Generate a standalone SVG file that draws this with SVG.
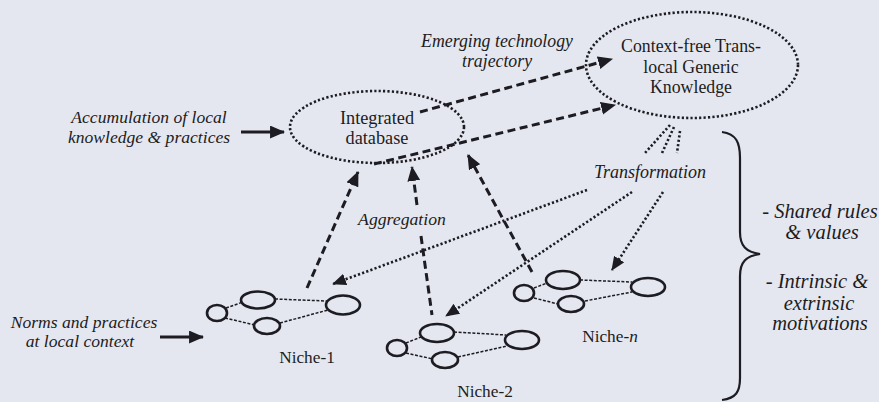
<svg xmlns="http://www.w3.org/2000/svg" width="879" height="402" viewBox="0 0 879 402">
  <defs>
    <style>
      text { font-family: "Liberation Serif", "DejaVu Serif", serif; fill: #1c1c22; }
      .it { font-style: italic; }
      .dotted { fill: none; stroke: #1c1c22; stroke-width: 2.6; stroke-dasharray: 2.2 2.2; }
      .dashed { fill: none; stroke: #1c1c22; stroke-width: 3; stroke-dasharray: 8 4.5; }
      .dotline { fill: none; stroke: #1c1c22; stroke-width: 2.6; stroke-dasharray: 2.2 2.2; }
      .solid { fill: none; stroke: #1c1c22; stroke-width: 3; }
      .cell { fill: none; stroke: #1c1c22; stroke-width: 2.6; }
      .link { fill: none; stroke: #1c1c22; stroke-width: 1.5; stroke-dasharray: 3 1.6; }
      .brace { fill: none; stroke: #1c1c22; stroke-width: 2.2; }
    </style>
    <marker id="head" viewBox="0 0 14 12" refX="13" refY="6" markerWidth="15" markerHeight="13" markerUnits="userSpaceOnUse" orient="auto">
      <path d="M0,0 L14,6 L0,12 Z" fill="#1c1c22"/>
    </marker>
    <marker id="headS" viewBox="0 0 14 12" refX="13" refY="6" markerWidth="14" markerHeight="12" markerUnits="userSpaceOnUse" orient="auto">
      <path d="M0,0 L14,6 L0,12 Z" fill="#1c1c22"/>
    </marker>
  </defs>

  <rect width="879" height="402" fill="#e5e7f0"/>

  <!-- main knowledge pools -->
  <g id="integrated-database">
    <ellipse class="dotted" cx="377" cy="127" rx="87" ry="36"/>
    <text x="377" y="124" font-size="18.3" text-anchor="middle">Integrated</text>
    <text x="377" y="144" font-size="18.3" text-anchor="middle">database</text>
  </g>

  <g id="generic-knowledge">
    <ellipse class="dotted" cx="692" cy="65" rx="106" ry="53"/>
    <text x="691" y="52" font-size="17.8" text-anchor="middle">Context-free Trans-</text>
    <text x="691" y="73" font-size="17.8" text-anchor="middle">local Generic</text>
    <text x="691" y="93" font-size="17.8" text-anchor="middle">Knowledge</text>
  </g>

  <!-- side labels -->
  <g id="accumulation">
    <text class="it" x="149" y="123" font-size="17.6" text-anchor="middle">Accumulation of local</text>
    <text class="it" x="149" y="143" font-size="17.6" text-anchor="middle">knowledge &amp; practices</text>
  </g>
  <g id="norms">
    <text class="it" x="84" y="328" font-size="17.6" text-anchor="middle">Norms and practices</text>
    <text class="it" x="80" y="347" font-size="17.6" text-anchor="middle">at local context</text>
  </g>
  <g id="emerging-label">
    <text class="it" x="497" y="47" font-size="17.8" text-anchor="middle">Emerging technology</text>
    <text class="it" x="497" y="67" font-size="17.8" text-anchor="middle">trajectory</text>
  </g>
  <g id="aggregation-label">
    <text class="it" x="402" y="225" font-size="17.7" text-anchor="middle">Aggregation</text>
  </g>
  <g id="transformation-label">
    <text class="it" x="650" y="178" font-size="18" text-anchor="middle">Transformation</text>
  </g>

  <!-- niche networks -->
  <g id="niche-1">
    <line class="link" x1="226" y1="308" x2="243" y2="302"/>
    <line class="link" x1="225" y1="318" x2="255" y2="325"/>
    <line class="link" x1="275" y1="299" x2="327" y2="301"/>
    <line class="link" x1="280" y1="323" x2="328" y2="310"/>
    <ellipse class="cell" cx="217" cy="313" rx="10" ry="8"/>
    <ellipse class="cell" cx="258" cy="300" rx="17" ry="8.5"/>
    <ellipse class="cell" cx="267" cy="326" rx="13" ry="8"/>
    <ellipse class="cell" cx="343" cy="305" rx="17" ry="9.5"/>
    <text x="307" y="363" font-size="17.3" text-anchor="middle">Niche-1</text>
  </g>

  <g id="niche-2">
    <line class="link" x1="406" y1="343" x2="421" y2="337"/>
    <line class="link" x1="406" y1="353" x2="433" y2="359"/>
    <line class="link" x1="454" y1="332" x2="506" y2="335"/>
    <line class="link" x1="458" y1="357" x2="507" y2="346"/>
    <ellipse class="cell" cx="397" cy="348" rx="10" ry="8"/>
    <ellipse class="cell" cx="437" cy="333" rx="17" ry="9"/>
    <ellipse class="cell" cx="445" cy="360" rx="13" ry="8"/>
    <ellipse class="cell" cx="522" cy="340" rx="17" ry="9"/>
    <text x="485" y="397" font-size="17.3" text-anchor="middle">Niche-2</text>
  </g>

  <g id="niche-n">
    <line class="link" x1="534" y1="288" x2="547" y2="283"/>
    <line class="link" x1="534" y1="298" x2="558" y2="304"/>
    <line class="link" x1="580" y1="280" x2="632" y2="282"/>
    <line class="link" x1="585" y1="301" x2="632" y2="292"/>
    <ellipse class="cell" cx="524" cy="293" rx="10" ry="8"/>
    <ellipse class="cell" cx="563" cy="280" rx="17" ry="9"/>
    <ellipse class="cell" cx="571" cy="304" rx="13" ry="8"/>
    <ellipse class="cell" cx="648" cy="287" rx="17" ry="9"/>
    <text x="610" y="342" font-size="17.3" text-anchor="middle">Niche-<tspan class="it">n</tspan></text>
  </g>

  <!-- motivations brace -->
  <g id="motivations">
    <path class="brace" d="M722,132 C736,134 740,142 740,158 L740,232 C740,246 746,252 760,254 C746,256 740,262 740,276 L740,378 C740,392 736,398 722,400"/>
    <text class="it" x="820" y="218" font-size="20.5" text-anchor="middle">- Shared rules</text>
    <text class="it" x="822" y="239" font-size="20.5" text-anchor="middle">&amp; values</text>
    <text class="it" x="817" y="288" font-size="20.5" text-anchor="middle">- Intrinsic &amp;</text>
    <text class="it" x="819" y="310" font-size="20.5" text-anchor="middle">extrinsic</text>
    <text class="it" x="820" y="330" font-size="20.5" text-anchor="middle">motivations</text>
  </g>

  <!-- connectors -->
  <g id="connectors">
    <!-- inputs -->
    <line class="solid" x1="241" y1="132" x2="284" y2="132" marker-end="url(#head)"/>
    <line class="solid" x1="160" y1="337" x2="203" y2="337" marker-end="url(#head)"/>
    <!-- database to generic knowledge -->
    <line class="dashed" x1="420" y1="112" x2="612" y2="59" marker-end="url(#head)"/>
    <line class="dashed" x1="374" y1="164" x2="615" y2="105" marker-end="url(#head)"/>
    <!-- aggregation -->
    <line class="dashed" x1="307" y1="288" x2="358" y2="172" marker-end="url(#head)"/>
    <line class="dashed" x1="417" y1="205" x2="412" y2="167" marker-end="url(#head)"/>
    <line class="dashed" x1="421" y1="236" x2="432" y2="315"/>
    <line class="dashed" x1="532" y1="272" x2="468" y2="155" marker-end="url(#head)"/>
    <!-- transformation -->
    <line class="dotline" x1="670" y1="125" x2="645" y2="153"/>
    <line class="dotline" x1="674" y1="127" x2="662" y2="153"/>
    <line class="dotline" x1="680" y1="131" x2="677" y2="153"/>
    <line class="dotline" x1="587" y1="190" x2="333" y2="284" marker-end="url(#headS)"/>
    <line class="dotline" x1="632" y1="192" x2="446" y2="316" marker-end="url(#headS)"/>
    <line class="dotline" x1="663" y1="192" x2="612" y2="270" marker-end="url(#headS)"/>
  </g>
</svg>
